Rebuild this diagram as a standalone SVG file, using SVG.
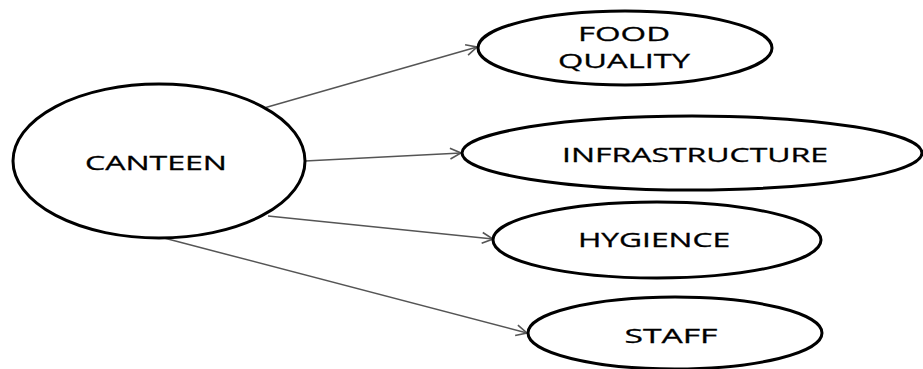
<svg xmlns="http://www.w3.org/2000/svg" width="923" height="369" viewBox="0 0 923 369">
  <style>
    .node ellipse { fill: #ffffff; stroke: #000000; stroke-width: 3; }
    .node text { font-family: "Open Sans", "DejaVu Sans", sans-serif; font-size: 20px; fill: #000000; stroke: #000000; stroke-width: 0.3; text-anchor: middle; }
    .edge { stroke: #555555; stroke-width: 1.5; fill: none; marker-end: url(#arrow); }
  </style>
  <defs>
    <marker id="arrow" viewBox="0 0 12 12" refX="11" refY="6" markerWidth="13" markerHeight="13" markerUnits="userSpaceOnUse" orient="auto">
      <path d="M1,1 L11,6 L1,11" fill="none" stroke="#555555" stroke-width="1.5"/>
    </marker>
  </defs>
  <rect width="923" height="369" fill="#ffffff"/>

  <g id="connectors">
    <line class="edge" x1="264" y1="108" x2="477" y2="47"/>
    <line class="edge" x1="305" y1="161" x2="461" y2="153"/>
    <line class="edge" x1="268" y1="216" x2="493" y2="239"/>
    <line class="edge" x1="164" y1="238" x2="527" y2="333"/>
  </g>

  <g id="canteen" class="node">
    <ellipse cx="159" cy="161" rx="146" ry="77"/>
    <text x="156" y="170" textLength="142" lengthAdjust="spacingAndGlyphs">CANTEEN</text>
  </g>

  <g id="food-quality" class="node">
    <ellipse cx="625" cy="48" rx="147" ry="37"/>
    <text x="624" y="41" textLength="92" lengthAdjust="spacingAndGlyphs">FOOD</text>
    <text x="624" y="68" textLength="132" lengthAdjust="spacingAndGlyphs">QUALITY</text>
  </g>

  <g id="infrastructure" class="node">
    <ellipse cx="692" cy="153" rx="230" ry="37"/>
    <text x="695" y="162" textLength="266" lengthAdjust="spacingAndGlyphs">INFRASTRUCTURE</text>
  </g>

  <g id="hygience" class="node">
    <ellipse cx="657" cy="240" rx="164" ry="38"/>
    <text x="654" y="247" textLength="152" lengthAdjust="spacingAndGlyphs">HYGIENCE</text>
  </g>

  <g id="staff" class="node">
    <ellipse cx="675" cy="333" rx="147" ry="36"/>
    <text x="671" y="343" textLength="93" lengthAdjust="spacingAndGlyphs">STAFF</text>
  </g>
</svg>
